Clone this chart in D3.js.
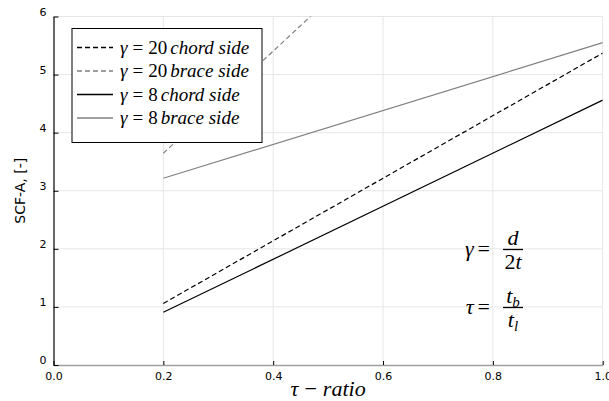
<!DOCTYPE html>
<html>
<head>
<meta charset="utf-8">
<script src="https://cdn.jsdelivr.net/npm/d3@7"></script>
<style>
  body { margin: 0; background: #fff; }
</style>
</head>
<body>
<div id="chart"></div>
<script>
// tau ratio where the curves are evaluated
var tau = [0.2, 1.0];
// SCF-A values
var g20Chord = [1.06, 5.37];
var g20Brace = [3.645, 10.68];
var g8Chord = [0.907, 4.56];
var g8Brace = [3.215, 5.55];

var xTicks = [0.0, 0.2, 0.4, 0.6, 0.8, 1.0];
var yTicks = [0, 1, 2, 3, 4, 5, 6];

var series = [
    {gamma: '20', side: 'chord side', values: g20Chord, color: '#000', dash: '5,3'},
    {gamma: '20', side: 'brace side', values: g20Brace, color: '#808080', dash: '5,3'},
    {gamma: '8', side: 'chord side', values: g8Chord, color: '#000', dash: null},
    {gamma: '8', side: 'brace side', values: g8Brace, color: '#808080', dash: null}
];

var W = 609, H = 401;
var m = {l: 53.5, r: 6.3, t: 16.5, b: 36};

var svg = d3.select('#chart').append('svg')
    .attr('width', W)
    .attr('height', H);

var x = d3.scaleLinear().domain([0, 1]).range([m.l, W - m.r]);
var y = d3.scaleLinear().domain([0, 6]).range([H - m.b, m.t]);

//serif math run: one text element per piece, laid side by side
//pieces: [text, italic, size, dy, gapBefore]
function mathRun(parent, px, py, pieces, anchor) {
    var g = parent.append('g');
    var cur = 0;
    pieces.forEach(function (p) {
        cur += p[4] || 0;
        var t = g.append('text')
            .attr('x', cur).attr('y', p[3] || 0)
            .attr('font-family', 'Liberation Serif')
            .attr('font-style', p[1] ? 'italic' : 'normal')
            .attr('font-size', p[2])
            .style('white-space', 'pre')
            .attr('xml:space', 'preserve')
            .text(p[0]);
        cur += t.node().getComputedTextLength();
    });
    var shift = anchor === 'middle' ? -cur / 2 : anchor === 'end' ? -cur : 0;
    g.attr('transform', 'translate(' + (px + shift) + ',' + py + ')');
    return g;
}

//grid
svg.append('g').selectAll('line').data(xTicks.slice(1)).enter().append('line')
    .attr('x1', function (d) { return x(d); })
    .attr('x2', function (d) { return x(d); })
    .attr('y1', y(0)).attr('y2', y(6))
    .style('stroke', '#e6e6e6').style('stroke-width', 1);
svg.append('g').selectAll('line').data(yTicks.slice(1)).enter().append('line')
    .attr('x1', x(0)).attr('x2', x(1))
    .attr('y1', function (d) { return y(d); })
    .attr('y2', function (d) { return y(d); })
    .style('stroke', '#e6e6e6').style('stroke-width', 1);

//series, clipped to the plot area
svg.append('clipPath').attr('id', 'clip').append('rect')
    .attr('x', x(0)).attr('y', y(6))
    .attr('width', x(1) - x(0)).attr('height', y(0) - y(6));

var line = d3.line()
    .x(function (d, i) { return x(tau[i]); })
    .y(function (d) { return y(d); });

svg.append('g').attr('clip-path', 'url(#clip)')
    .selectAll('path').data(series).enter().append('path')
    .attr('d', function (d) { return line(d.values); })
    .style('fill', 'none')
    .style('stroke', function (d) { return d.color; })
    .style('stroke-width', 1.2)
    .style('stroke-dasharray', function (d) { return d.dash; });

//axes
var xAxis = svg.append('g')
    .attr('transform', 'translate(0,' + y(0) + ')')
    .call(d3.axisBottom(x).tickValues(xTicks).tickFormat(d3.format('.1f')).tickSizeInner(-4).tickSizeOuter(0).tickPadding(7))
    .attr('font-family', 'DejaVu Sans').attr('font-size', 11);
xAxis.select('.domain').style('stroke', '#a0a0a0').style('stroke-width', 1.6);
xAxis.selectAll('.tick line').style('stroke', '#000');

var yAxis = svg.append('g')
    .attr('transform', 'translate(' + x(0) + ',0)')
    .call(d3.axisLeft(y).tickValues(yTicks).tickFormat(d3.format('d')).tickSizeInner(-5).tickSizeOuter(0).tickPadding(7))
    .attr('font-family', 'DejaVu Sans').attr('font-size', 11);
yAxis.select('.domain').style('stroke', '#000').style('stroke-width', 1.2);
yAxis.selectAll('.tick text').attr('dy', '-0.1em');

//axis titles
svg.append('text')
    .attr('transform', 'translate(25,' + ((y(0) + y(6)) / 2) + ') rotate(-90)')
    .attr('text-anchor', 'middle')
    .attr('font-family', 'DejaVu Sans')
    .attr('font-size', 14)
    .text('SCF-A, [-]');

mathRun(svg, (x(0) + x(1)) / 2, 396, [['τ', true, 22], ['−', false, 22, 0, 6], ['ratio', true, 22, 0, 6]], 'middle');

//legend
var lg = svg.append('g').attr('transform', 'translate(72,28.5)');
lg.append('rect').attr('width', 190).attr('height', 114)
    .style('fill', '#fff').style('stroke', '#000').style('stroke-width', 1);
var item = lg.selectAll('.js-lg').data(series).enter().append('g')
    .attr('class', 'js-lg')
    .attr('transform', function (d, i) { return 'translate(0,' + (19 + i * 23.5) + ')'; });
item.append('line')
    .attr('x1', 5).attr('x2', 41)
    .style('stroke', function (d) { return d.color; })
    .style('stroke-width', 1.4)
    .style('stroke-dasharray', function (d) { return d.dash; });
item.each(function (d) {
    mathRun(d3.select(this), 48, 6, [
        ['γ', true, 19],
        ['=', false, 19, 0, 5],
        [d.gamma, false, 19, 0, 5],
        [d.side, true, 19, 0, 3]
    ]);
});

//formula annotations
function fraction(cx, cy, lhs, num, den) {
    mathRun(svg, cx - 10, cy + 6, [[lhs, true, 22], ['=', false, 22, 0, 4]], 'end');
    svg.append('line').attr('x1', cx + 3).attr('x2', cx + 23)
        .attr('y1', cy).attr('y2', cy)
        .style('stroke', '#000').style('stroke-width', 1.3);
    mathRun(svg, cx + 13, cy - 5, num, 'middle');
    mathRun(svg, cx + 13, cy + 19, den, 'middle');
}
fraction(500, 249.5, 'γ', [['d', true, 22]], [['2', false, 22], ['t', true, 22]]);
fraction(500, 307.5, 'τ', [['t', true, 22], ['b', true, 15, 4]], [['t', true, 22], ['l', true, 15, 4]]);
</script>
</body>
</html>
